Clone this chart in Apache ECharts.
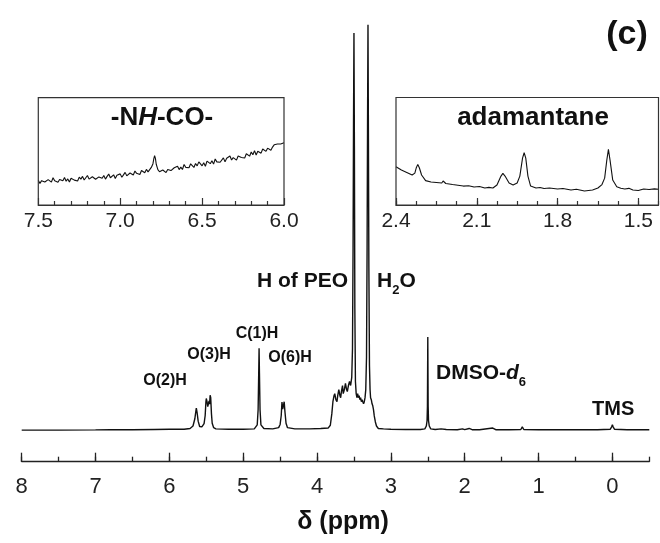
<!DOCTYPE html>
<html><head><meta charset="utf-8">
<script src="https://cdn.jsdelivr.net/npm/echarts@6/dist/echarts.min.js"></script>
<style>html,body{margin:0;padding:0;background:#fff}#c{width:660px;height:543px}</style>
</head><body><div id="c"></div>
<script>
// ---------------- data ----------------
const mainPpm = [8.00,7.50,7.00,6.80,6.50,6.20,6.00,5.80,5.72,5.68,5.655,5.64,5.635,5.625,5.61,5.59,5.56,5.53,5.515,5.505,5.50,5.49,5.48,5.47,5.462,5.455,5.448,5.44,5.43,5.42,5.40,5.37,5.20,5.00,4.85,4.81,4.798,4.79,4.785,4.78,4.772,4.76,4.72,4.60,4.52,4.50,4.485,4.475,4.465,4.458,4.445,4.435,4.42,4.40,4.30,4.10,3.95,3.85,3.82,3.80,3.785,3.77,3.76,3.745,3.73,3.72,3.705,3.69,3.68,3.67,3.655,3.645,3.63,3.615,3.60,3.59,3.575,3.56,3.545,3.53,3.52,3.512,3.506,3.50,3.494,3.488,3.48,3.47,3.46,3.45,3.44,3.43,3.42,3.41,3.40,3.39,3.38,3.37,3.36,3.35,3.34,3.33,3.322,3.316,3.31,3.304,3.298,3.29,3.282,3.275,3.265,3.255,3.245,3.235,3.225,3.21,3.195,3.17,3.10,3.00,2.80,2.60,2.54,2.52,2.51,2.505,2.50,2.495,2.49,2.48,2.46,2.40,2.32,2.25,2.10,2.03,2.00,1.94,1.90,1.80,1.62,1.58,1.40,1.24,1.22,1.20,1.00,0.60,0.20,0.03,0.01,0.00,-0.01,-0.03,-0.20,-0.50];
const mainInt = [0.0,0.0,0.05,0.1,0.1,0.15,0.2,0.2,0.4,1.0,2.8,4.8,5.4,4.4,2.2,0.9,0.8,1.6,3.6,7.0,7.8,7.0,5.8,6.6,7.2,6.4,8.6,8.0,4.0,1.7,0.6,0.3,0.2,0.2,0.3,1.3,5.0,14.0,20.2,14.0,5.0,1.3,0.4,0.3,0.6,1.4,3.6,6.9,5.2,5.8,7.0,4.6,1.7,0.6,0.3,0.3,0.4,0.5,1.2,4.0,7.0,8.5,9.0,7.5,7.0,8.5,10.0,8.5,8.0,9.5,11.0,9.0,10.0,11.5,10.0,9.5,11.0,12.0,11.0,13.0,20.0,45.0,75.0,98.0,70.0,30.0,12.0,9.0,8.0,9.0,8.0,8.5,7.5,8.0,7.0,7.5,7.0,6.5,7.0,8.0,10.0,18.0,45.0,75.0,100.0,72.0,40.0,16.0,10.0,8.0,7.5,6.5,6.0,5.0,3.5,2.0,1.0,0.4,0.3,0.2,0.15,0.15,0.3,1.0,2.3,5.8,23.0,5.8,2.3,1.0,0.3,0.15,0.3,0.15,0.1,0.3,0.1,0.4,0.1,0.1,0.5,0.1,0.1,0.15,0.8,0.15,0.1,0.1,0.1,0.2,0.8,1.3,0.8,0.2,0.1,0.1];

const nhPpm = [7.50,7.49,7.48,7.47,7.46,7.45,7.44,7.43,7.42,7.41,7.40,7.39,7.38,7.37,7.36,7.35,7.34,7.33,7.32,7.31,7.30,7.29,7.28,7.27,7.26,7.25,7.24,7.23,7.22,7.21,7.20,7.19,7.18,7.17,7.16,7.15,7.14,7.13,7.12,7.11,7.10,7.09,7.08,7.07,7.06,7.05,7.04,7.03,7.02,7.01,7.00,6.99,6.98,6.97,6.96,6.95,6.94,6.93,6.92,6.91,6.90,6.89,6.88,6.87,6.86,6.85,6.84,6.83,6.82,6.81,6.80,6.795,6.79,6.785,6.78,6.77,6.76,6.75,6.74,6.73,6.72,6.71,6.70,6.69,6.68,6.67,6.66,6.65,6.64,6.63,6.62,6.61,6.60,6.59,6.58,6.57,6.56,6.55,6.54,6.53,6.52,6.51,6.50,6.49,6.48,6.47,6.46,6.45,6.44,6.43,6.42,6.41,6.40,6.39,6.38,6.37,6.36,6.35,6.34,6.33,6.32,6.31,6.30,6.29,6.28,6.27,6.26,6.25,6.24,6.23,6.22,6.21,6.20,6.19,6.18,6.17,6.16,6.15,6.14,6.13,6.12,6.11,6.10,6.09,6.08,6.07,6.06,6.05,6.04,6.03,6.02,6.01,6.00];
const nhInt = [23,20.1,22.7,24.3,21.4,20,23.6,22.7,21.3,25.4,22.5,24.1,21.2,23.8,24.9,22.5,25.6,22.2,24.3,21.4,25,26.6,23.2,24.3,22.4,26,24.1,26.7,23.3,25.4,27.5,24.1,22.7,26.3,25.4,24,23.1,26.2,27.8,24.9,27.5,24.1,26.7,28.8,25.4,26.5,28.1,24.7,27.8,26.4,29,25.8,28.1,30.4,27.2,26.5,29.8,29.1,27.9,31.7,29.5,31.2,28.4,32.1,30.8,30,33.2,30.9,32.6,35,38.5,43,46,43.5,38,33,31,29.8,32.6,33.9,30.2,33,34.3,32.1,30.9,34.7,34,36.2,33,35.3,33.1,37.8,35.1,36.9,34.7,38.4,36.7,35,38.7,36.5,40.2,38.4,36.5,39.3,36.1,40.9,39.2,38.5,41.3,38.1,42.9,40.2,42,39.8,41.6,43.9,40.2,43.5,41.8,45.6,41.9,44.2,46,41.8,45.6,47.4,44.2,45.5,43.8,47.7,47.1,45.5,49.4,46.8,50.7,46.6,50,49.4,48.3,52.2,51.1,50,53,54,51,54,56.1,54.7,56.8,57.1,56.9,58.5,58];

const adPpm = [2.40,2.38,2.36,2.34,2.33,2.325,2.319,2.313,2.305,2.29,2.27,2.25,2.23,2.225,2.215,2.19,2.17,2.15,2.13,2.11,2.09,2.07,2.055,2.04,2.025,2.01,2.003,1.995,1.98,1.965,1.95,1.94,1.93,1.924,1.918,1.91,1.90,1.88,1.865,1.85,1.83,1.80,1.78,1.75,1.73,1.70,1.67,1.65,1.635,1.625,1.617,1.611,1.605,1.595,1.58,1.565,1.55,1.535,1.52,1.50,1.48,1.46,1.44,1.425];
const adInt = [35.6,32.5,30.2,27.9,29.7,34.4,37.8,34.4,27.9,22.7,21.4,20.9,20.4,22.3,20.0,19.0,18.3,17.6,17.9,16.7,17.2,15.8,16.4,15.8,18.6,26.9,29.4,26.9,20.4,18.6,20.4,26.9,43.6,48.6,43.6,26.9,17.6,15.8,16.3,15.3,15.8,14.9,15.4,13.9,14.6,13.0,13.9,15.8,19.0,25.0,41.8,51.7,41.8,23.2,17.0,15.6,14.9,15.5,13.9,13.5,14.9,14.4,15.0,14.6];

const mainTicks = [8,7,6,5,4,3,2,1,0];
const nhTicks = [7.5,7.0,6.5,6.0];
const adTicks = [2.4,2.1,1.8,1.5];

// ---------------- layout ----------------
const insetL = {left:38.3, top:97.7, width:245.7, height:107.3};
const insetR = {left:396, top:97.5, width:262.5, height:107.5};

// ---------------- helpers ----------------
const FAM = '"Liberation Sans", Arial, sans-serif';
const ctx = document.createElement('canvas').getContext('2d');
function fnt(size, bold, italic){return (italic?'italic ':'')+(bold?'bold ':'')+size+'px '+FAM;}
function tw(font, s){ctx.font = font; return ctx.measureText(s).width;}
function label(parts, x, y, align){
  const widths = parts.map(p => tw(fnt(p[1], true, p[2]), p[0]));
  const total = widths.reduce((a,b)=>a+b,0);
  let cx = align==='center' ? x-total/2 : (align==='right' ? x-total : x);
  const out = [];
  parts.forEach((p,i)=>{
    out.push({type:'text', x:cx, y:y+(p[3]||0), z:100, silent:true,
      style:{text:p[0], font:fnt(p[1], true, p[2]), fill:'#111', align:'left', verticalAlign:'middle', textAlign:'left', textVerticalAlign:'middle'}});
    cx += widths[i];
  });
  return out;
}
function box(g){
  return {type:'rect', z:50, silent:true, shape:{x:g.left, y:g.top, width:g.width, height:g.height},
    style:{fill:'none', stroke:'#333', lineWidth:1.2}};
}
const zip = (a,b)=>a.map((v,i)=>[v,b[i]]);

const axisCol = '#222';
const graphics = [box(insetL), box(insetR)].concat(
  label([['(c)',34]], 627, 35, 'center'),
  label([['-N',26],['H',26,true],['-CO-',26]], 162, 118, 'center'),
  label([['adamantane',26]], 533, 118, 'center'),
  label([['H of PEO',21]], 348, 281, 'right'),
  label([['H',21],['2',13,false,9],['O',21]], 377, 281, 'left'),
  label([['DMSO-',21],['d',21,true],['6',13,false,9]], 436, 373, 'left'),
  label([['TMS',20]], 592, 409, 'left'),
  label([['O(2)H',16]], 165, 381, 'center'),
  label([['O(3)H',16]], 209, 355, 'center'),
  label([['C(1)H',16]], 257, 334, 'center'),
  label([['O(6)H',16]], 290, 358, 'center'),
  label([['δ (ppm)',25]], 343, 522, 'center')
);

const lineCommon = {type:'line', showSymbol:false, symbol:'none', silent:true, animation:false};
const tickLbl = {color:'#222', fontFamily:FAM};

const option = {
  animation:false,
  grid:[
    {left:21.7, right:10.7, top:20, bottom:81.3},
    Object.assign({show:false}, insetL),
    Object.assign({show:false}, insetR)
  ],
  xAxis:[
    {gridIndex:0, type:'value', inverse:true, min:-0.5, max:8, interval:0.5, position:'bottom',
      axisLine:{show:true, onZero:false, lineStyle:{color:axisCol, width:1.3}},
      axisTick:{show:true, inside:true, length:5, lineStyle:{color:axisCol, width:1.3}},
      axisLabel:{show:false}, splitLine:{show:false}},
    {gridIndex:0, type:'value', inverse:true, min:-0.5, max:8, position:'bottom',
      axisLine:{show:false, onZero:false},
      axisTick:{show:true, inside:true, length:9, customValues:mainTicks, lineStyle:{color:axisCol, width:1.3}},
      axisLabel:Object.assign({show:true, customValues:mainTicks, fontSize:22, margin:14, formatter:v=>String(Math.round(v))}, tickLbl),
      splitLine:{show:false}},
    {gridIndex:1, type:'value', inverse:true, min:6.0, max:7.5, interval:0.5, position:'bottom',
      axisLine:{show:true, onZero:false, lineStyle:{color:'#333', width:1.2}},
      axisTick:{show:true, inside:true, length:7, lineStyle:{color:'#333', width:1.2}},
      minorTick:{show:true, splitNumber:5, length:4, lineStyle:{color:'#333', width:1.2}},
      axisLabel:Object.assign({show:true, fontSize:21, margin:6, showMinLabel:true, showMaxLabel:true, formatter:v=>v.toFixed(1)}, tickLbl),
      splitLine:{show:false}},
    {gridIndex:2, type:'value', inverse:true, min:1.425, max:2.4, interval:0.075, position:'bottom',
      axisLine:{show:true, onZero:false, lineStyle:{color:'#333', width:1.2}},
      axisTick:{show:true, inside:true, length:4, lineStyle:{color:'#333', width:1.2}},
      axisLabel:{show:false}, splitLine:{show:false}},
    {gridIndex:2, type:'value', inverse:true, min:1.425, max:2.4, position:'bottom',
      axisLine:{show:false, onZero:false},
      axisTick:{show:true, inside:true, length:7, customValues:adTicks, lineStyle:{color:'#333', width:1.2}},
      axisLabel:Object.assign({show:true, customValues:adTicks, fontSize:21, margin:6, formatter:v=>v.toFixed(1)}, tickLbl),
      splitLine:{show:false}}
  ],
  yAxis:[
    {gridIndex:0, type:'value', show:false, min:-7.8, max:101.2, splitLine:{show:false}},
    {gridIndex:1, type:'value', show:false, min:0, max:100, splitLine:{show:false}},
    {gridIndex:2, type:'value', show:false, min:0, max:100, splitLine:{show:false}}
  ],
  series:[
    Object.assign({xAxisIndex:0, yAxisIndex:0, data:zip(mainPpm, mainInt), lineStyle:{color:'#111', width:1.4}}, lineCommon),
    Object.assign({xAxisIndex:2, yAxisIndex:1, data:zip(nhPpm, nhInt), lineStyle:{color:'#111', width:1.1}}, lineCommon),
    Object.assign({xAxisIndex:3, yAxisIndex:2, data:zip(adPpm, adInt), lineStyle:{color:'#111', width:1.1}}, lineCommon)
  ],
  graphic:graphics
};
const chart = echarts.init(document.getElementById('c'), null, {renderer:'canvas'});
chart.setOption(option);
</script>
</body></html>
